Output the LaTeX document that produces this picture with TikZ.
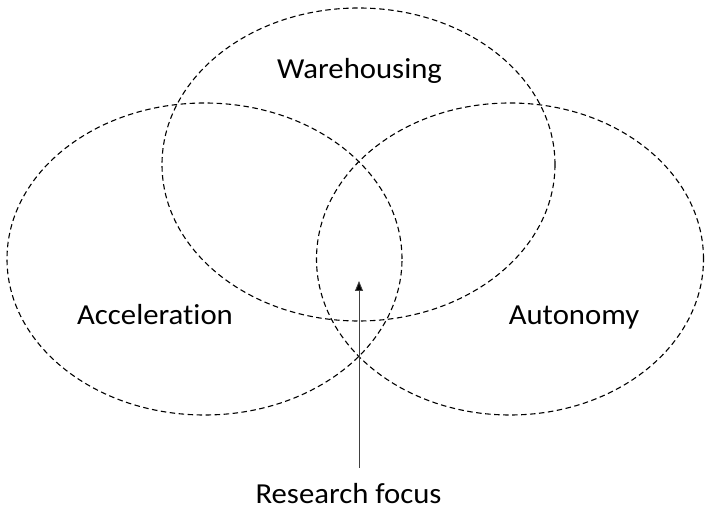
\documentclass[tikz,border=0pt]{standalone}
\usepackage{fontspec}
\setmainfont[Ligatures={NoCommon}]{Carlito}
\usetikzlibrary{arrows.meta,shapes.geometric}
\begin{document}
\begin{tikzpicture}[x=1pt,y=-1pt,
  setshape/.style={draw=black, ellipse, inner sep=0pt, line width=1.1pt, dash pattern=on 5.5pt off 3.5pt},
  lbl/.style={font=\fontsize{29}{33}\selectfont, inner sep=0pt, anchor=base, xscale=1.06}]
\useasboundingbox (0,0) rectangle (705,510);
\node[setshape, minimum width=393pt, minimum height=313pt] (ware) at (358.5,164.5) {};
\node[setshape, minimum width=395pt, minimum height=312pt] (acc) at (204.5,259) {};
\node[setshape, minimum width=387pt, minimum height=312pt] (aut) at (510,259) {};
\node[lbl] (wl) at (359.5,79) {Warehousing};
\node[lbl] (al) at (155,325) {Acceleration};
\node[lbl] (ul) at (574,325) {Autonomy};
\node[lbl, text depth=0pt] (focus) at (348.5,504) {Research focus};
\coordinate (base) at (359,468);
\coordinate (tip) at (359,281);
\draw[black!75, line width=0.9pt, -{Triangle[length=10pt,width=8pt,fill=black]}] (base) -- (tip);
\end{tikzpicture}
\end{document}
